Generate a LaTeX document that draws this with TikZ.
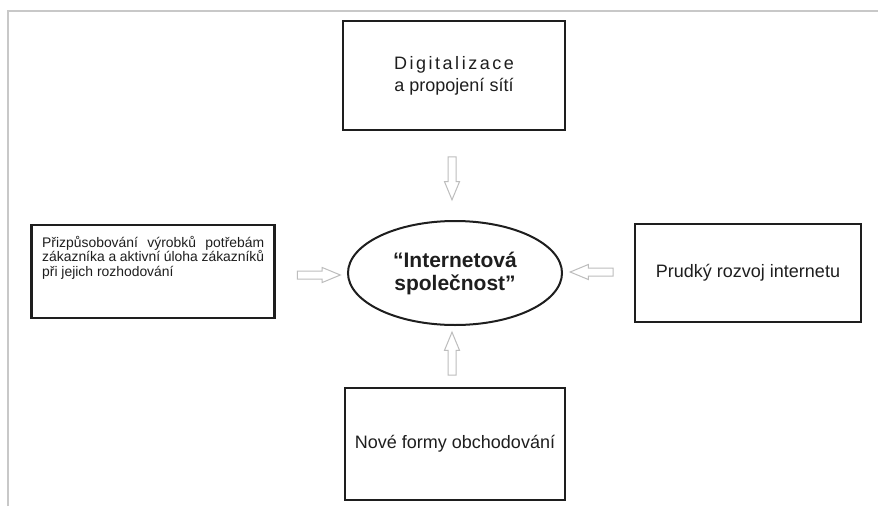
\documentclass[tikz,border=0pt]{standalone}
\usepackage{fontspec}
\setmainfont{Liberation Sans}
\newfontfamily\spacedfont[LetterSpace=14]{Liberation Sans}
\usetikzlibrary{shapes.geometric,shapes.arrows}
\definecolor{boxline}{HTML}{1E1E1E}
\definecolor{arrowline}{HTML}{BDBDBD}
\definecolor{frameline}{HTML}{C8C8C8}

\begin{document}
\begin{tikzpicture}
  [x=1pt, y=-1pt,
   box/.style={draw=boxline, line width=2.2pt, inner sep=0pt, align=center,
               text=boxline, font=\fontsize{18}{22}\selectfont},
   hollow/.style={single arrow, draw=arrowline, line width=1pt, inner sep=3.5pt,
                  minimum height=43pt, single arrow head extend=3.5pt,
                  single arrow tip angle=45}]
  \useasboundingbox (0, 0) rectangle (878, 506);
  \fill[white] (0, 0) rectangle (878, 506);
  \draw[frameline, line width=1.2pt] (8, 506) -- (8, 11) -- (878, 11);
  % boxes round the centre
  \node[box, minimum width=222pt, minimum height=109pt] (digital) at (454, 75.5)
    {{\spacedfont Digitalizace}\\a propojení sítí};
  \node[box, minimum width=243pt, minimum height=93pt] (prizp) at (153, 271.5) {};
  \node[anchor=north west, text width=222pt, align=justify, inner sep=0pt,
        text=boxline, font=\fontsize{13.9}{14.5}\selectfont] (prizptext) at (42, 236)
    {Přizpůsobování výrobků potřebám zákazníka a aktivní úloha zákazníků při jejich rozhodování};
  \node[box, minimum width=226pt, minimum height=98pt] (prudky) at (748, 273)
    {Prudký rozvoj internetu};
  \node[box, minimum width=220pt, minimum height=112pt] (nove) at (455, 444)
    {Nové formy obchodování};
  \node[ellipse, draw=boxline, line width=2pt, minimum width=214pt, minimum height=104pt,
        align=center, text=boxline, font=\bfseries\fontsize{21}{23}\selectfont]
    (isp) at (455, 273) {“Internetová\\společnost”};
  % hollow arrows
  \node[hollow, rotate=-90] (arrtop) at (452, 173.5) {};
  \node[hollow] (arrleft) at (314, 275) {};
  \node[hollow, rotate=180] (arrright) at (596.5, 272) {};
  \node[hollow, rotate=90] (arrbottom) at (452, 358.5) {};
\end{tikzpicture}
\end{document}
